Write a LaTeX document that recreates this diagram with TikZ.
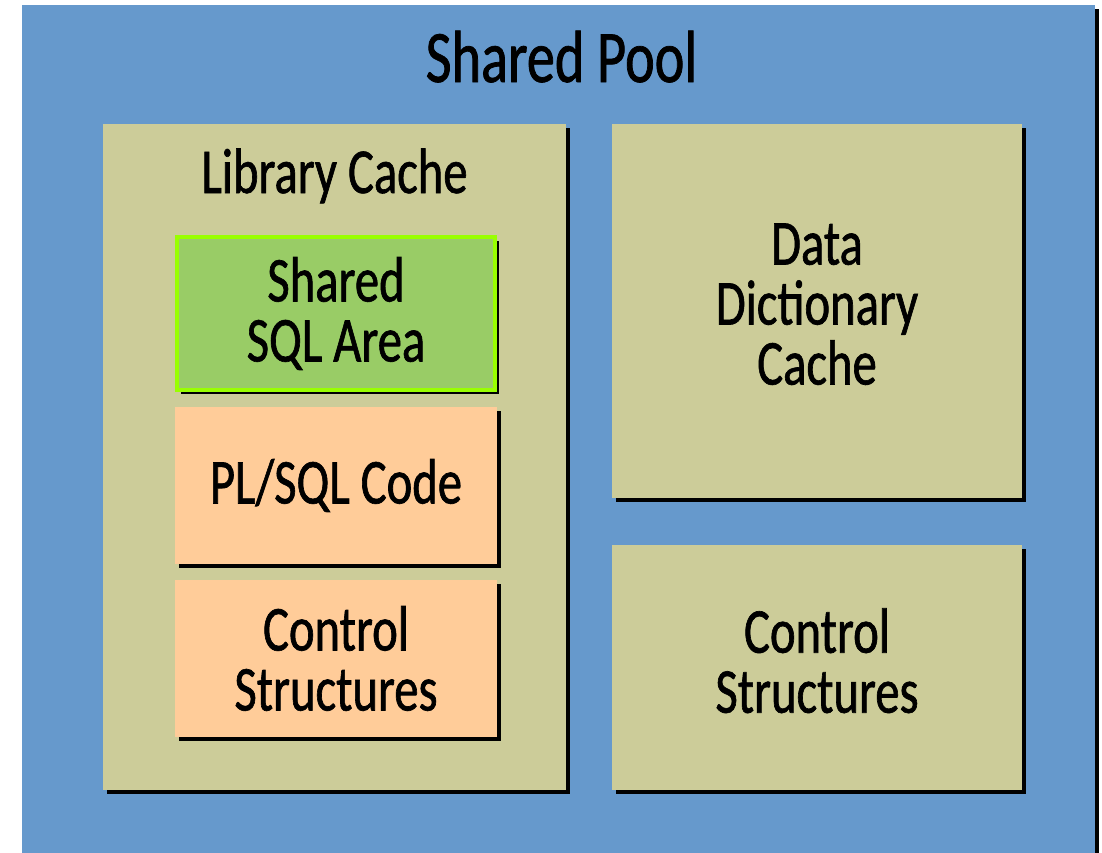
\documentclass[tikz,border=0pt]{standalone}
\usepackage{fontspec}
\setmainfont{Carlito}[FakeStretch=0.76, FakeBold=1]
\usetikzlibrary{shadows}
\definecolor{poolblue}{HTML}{6699CC}
\definecolor{cachekhaki}{HTML}{CCCC99}
\definecolor{sqlgreen}{HTML}{99CC66}
\definecolor{sqlborder}{HTML}{99FF00}
\definecolor{codepeach}{HTML}{FFCC99}
\tikzset{
  blackshadow/.style={general shadow={shadow xshift=4pt, shadow yshift=-4pt, fill=black}},
  box/.style={inner sep=0pt, align=center, blackshadow,
    font=\fontsize{64}{60}\selectfont},
  outerbox/.style={box, fill=cachekhaki, text depth=14pt},
  innerbox/.style={box, fill=codepeach, minimum width=322pt, minimum height=157pt},
  title/.style={inner sep=0pt, anchor=base}
}
\begin{document}
\begin{tikzpicture}[x=1pt, y=-1pt]
    \useasboundingbox[fill=white] (0,0) rectangle (1102,852);
    % Fondo
    \node[box, fill=poolblue, minimum width=1073pt, minimum height=867pt]
        (pool) at (558.5,438.5) {};
    \node[title, font=\fontsize{74}{80}\selectfont] (pooltitle) at (561.5,82) {Shared Pool};
    % Library Cache
    \node[outerbox, minimum width=463pt, minimum height=666pt] (libcache) at (334.5,457) {};
    \node[title, font=\fontsize{64}{60}\selectfont] (libtitle) at (334.5,193) {Library Cache};
    \node[innerbox, fill=sqlgreen, draw=sqlborder, line width=4pt,
        minimum width=318pt, minimum height=153pt] (sqlarea) at (336,313.5) {Shared\\SQL Area};
    \node[innerbox] (plsql) at (336,485.5) {PL/SQL Code};
    \node[innerbox] (libctrl) at (336,658.5) {Control\\Structures};
    % Cajas de la derecha
    \node[outerbox, minimum width=410pt, minimum height=374pt] (dictcache) at (817,311)
        {Data\\Dictionary\\Cache};
    \node[outerbox, minimum width=410pt, minimum height=245pt] (poolctrl) at (817,667.5)
        {Control\\Structures};
\end{tikzpicture}
\end{document}
